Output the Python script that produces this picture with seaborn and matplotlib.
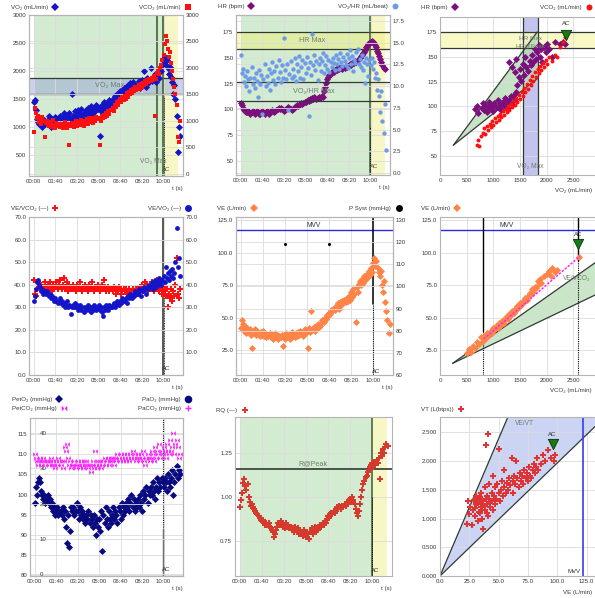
import matplotlib
matplotlib.use("Agg")
import numpy as np
import pandas as pd
import matplotlib.pyplot as plt
import seaborn as sns
from matplotlib.lines import Line2D
from matplotlib.legend import Legend
from matplotlib.path import Path
from matplotlib.ticker import FuncFormatter

sns.set_theme(style="whitegrid")
plt.rcParams['font.family'] = ['Liberation Sans', 'DejaVu Sans']
plt.rcParams['axes.axisbelow'] = True

# ---------------- data ----------------
T_S = [0, 5, 10, 15, 20, 25, 30, 35, 40, 45, 50, 55,
       60, 65, 70, 75, 80, 85, 90, 95, 100, 105, 110, 115,
       120, 125, 130, 135, 140, 145, 150, 155, 160, 165, 170, 175,
       180, 185, 190, 195, 200, 205, 210, 215, 220, 225, 230, 235,
       240, 245, 250, 255, 260, 265, 270, 275, 280, 285, 290, 295,
       300, 305, 310, 315, 320, 325, 330, 335, 340, 345, 350, 355,
       360, 365, 370, 375, 380, 385, 390, 395, 400, 405, 410, 415,
       420, 425, 430, 435, 440, 445, 450, 455, 460, 465, 470, 475,
       480, 485, 490, 495, 500, 505, 510, 515, 520, 525, 530, 535,
       540, 545, 550, 555, 560, 565, 570, 575, 580, 585, 590, 595,
       600, 605, 610, 615, 620, 625, 630, 635, 640, 645, 650, 655,
       660, 665, 670, 675]

VO2 = [1450, 1480, 1300, 1150, 1100, 1050, 1120, 1080, 1000, 1150, 1060, 1100,
       1050, 1120, 1200, 1080, 1000, 1150, 1100, 1050, 1180, 1120, 1090, 1160,
       1200, 1130, 1080, 1170, 1250, 1150, 1100, 1220, 1180, 1260, 1140, 1600,
       1200, 1150, 1280, 1220, 1180, 1300, 1250, 1200, 1320, 1170, 1260, 1230,
       1300, 1250, 1350, 1280, 1220, 1380, 1300, 1260, 1340, 1290, 1400, 1320,
       1350, 850, 1280, 1400, 1330, 1450, 1370, 1300, 1420, 1360, 1480, 1400,
       1450, 1500, 1420, 1550, 1480, 1600, 1520, 1580, 1650, 1560, 1620, 1700,
       1650, 1720, 1600, 1750, 1680, 1780, 1700, 1650, 1800, 1720, 1760, 1690,
       1750, 1820, 1700, 1780, 1850, 1760, 2000, 1800, 1720, 1880, 1790, 1850,
       2050, 1820, 1900, 1870, 1950, 1800, 1920, 1980, 1880, 2050, 2000, 2100,
       2150, 2250, 2100, 2200, 2050, 1950, 2080, 1900, 1800, 1600, 1750, 1500,
       1200, 550, 1000, 850]

VCO2 = [800, 1250, 1150, 1050, 1100, 980, 1020, 950, 1080, 1000, 700, 960,
        1000, 920, 980, 900, 950, 880, 1010, 930, 870, 960, 900, 940,
        880, 950, 920, 860, 900, 980, 910, 870, 940, 540, 900, 960,
        920, 880, 950, 1000, 900, 940, 980, 920, 1010, 960, 900, 1000,
        980, 1040, 950, 1000, 1060, 990, 1020, 960, 1050, 1000, 1080, 1030,
        1050, 550, 1000, 1100, 1060, 1120, 1080, 1150, 1100, 1180, 1130, 1200,
        1200, 1250, 1180, 1300, 1260, 1350, 1300, 1380, 1420, 1350, 1450, 1400,
        1480, 1420, 1520, 1460, 1550, 1500, 1580, 1530, 1600, 1560, 1640, 1580,
        1620, 1680, 1600, 1700, 1650, 1720, 1680, 1750, 1700, 1780, 1730, 1800,
        1750, 1820, 1780, 1850, 1100, 1800, 1900, 1950, 1880, 2000, 2050, 2150,
        2250, 2450, 2600, 2500, 2350, 2200, 2300, 2100, 1950, 1800, 1650, 1500,
        1300, 700, 600, 1000]

HR = [106, 104, 101, 99, 98, 97, 97, 98, 97, 96, 97, 98,
      97, 96, 97, 98, 97, 96, 96, 97, 98, 97, 96, 97,
      98, 97, 96, 97, 98, 99, 98, 97, 98, 99, 100, 101,
      100, 101, 100, 99, 98, 99, 100, 101, 102, 101, 100, 99,
      100, 101, 102, 103, 104, 103, 104, 105, 106, 105, 106, 107,
      107, 108, 109, 108, 110, 109, 111, 110, 112, 111, 110, 111,
      112, 111, 112, 113, 112, 118, 122, 126, 129, 131, 133, 134,
      136, 137, 136, 138, 139, 138, 140, 139, 141, 140, 139, 141,
      140, 142, 141, 142, 143, 144, 143, 145, 146, 145, 147, 146,
      148, 149, 150, 152, 153, 155, 156, 158, 160, 161, 163, 164,
      165, 166, 165, 164, 162, 160, 157, 155, 152, 149, 146, 143,
      140, 139, None, None]

VO2_HR = [13.6, 11.5, 12.0, 10.5, 11.2, 10.0, 11.8, 10.8, 9.5, 11.0, 12.2, 10.3,
          11.0, 9.8, 11.5, 10.6, 8.8, 11.9, 10.2, 11.3, 6.8, 10.8, 12.5, 10.0,
          11.2, 10.4, 12.0, 9.6, 11.5, 12.8, 10.7, 11.8, 10.2, 12.3, 11.0, 13.0,
          11.6, 10.5, 12.4, 11.0, 15.6, 11.9, 10.8, 12.6, 7.2, 11.4, 12.9, 10.9,
          12.0, 11.2, 13.2, 10.6, 12.5, 11.8, 13.5, 11.0, 12.2, 13.0, 10.8, 12.7,
          11.5, 13.4, 12.1, 6.6, 12.8, 11.3, 16.0, 12.4, 13.6, 11.9, 12.9, 10.7,
          12.6, 13.2, 11.8, 12.9, 13.8, 11.5, 12.4, 13.5, 12.0, 13.0, 11.6, 12.8,
          12.2, 13.3, 12.7, 11.9, 13.6, 12.5, 13.1, 12.0, 13.8, 12.8, 12.3, 13.4,
          12.9, 12.4, 13.7, 12.1, 13.2, 14.2, 12.6, 13.5, 11.8, 13.0, 12.7, 13.9,
          14.3, 12.5, 13.1, 12.2, 13.6, 11.9, 12.8, 10.4, 13.3, 12.6, 11.2, 13.0,
          12.4, 13.2, 12.0, 12.8, 10.9, 11.5, 9.6, 10.8, 8.9, 7.0, 9.4, 6.0,
          4.6, 8.0, 2.7, None]

VE_VCO2 = [42, 36, 35, 38, 41, 39, 38, 40, 37, 39, 41, 38,
           39, 40, 38, 41, 39, 37, 40, 38, 39, 41, 38, 40,
           42, 39, 38, 40, 43, 38, 39, 41, 37, 40, 39, 38,
           40, 38, 39, 37, 40, 38, 39, 41, 38, 37, 39, 40,
           38, 39, 37, 40, 38, 39, 41, 38, 37, 39, 38, 40,
           39, 37, 38, 40, 38, 42, 39, 37, 38, 39, 37, 38,
           38, 37, 39, 38, 36, 38, 37, 39, 38, 36, 37, 38,
           37, 38, 36, 37, 38, 36, 37, 35, 38, 37, 36, 38,
           36, 37, 39, 38, 40, 37, 39, 41, 38, 40, 37, 39,
           38, 41, 39, 37, 40, 38, 42, 39, 37, 40, 38, 36,
           39, 37, 35, 38, 30, 36, 34, 38, 33, 37, 35, 40,
           52, 36, 34, 38]

VE_VO2 = [33, 35, 38, 41, 42, 40, 39, 37, 38, 36, 37, 36,
          37, 36, 35, 36, 34, 35, 34, 33, 34, 33, 32, 33,
          34, 32, 33, 31, 32, 30, 31, 33, 30, 31, 27, 30,
          31, 30, 32, 30, 31, 29, 30, 31, 29, 30, 28, 30,
          29, 30, 31, 29, 30, 28, 30, 29, 31, 30, 29, 30,
          31, 29, 30, 28, 26, 30, 29, 31, 30, 29, 31, 30,
          30, 31, 32, 30, 31, 33, 32, 31, 33, 32, 34, 33,
          33, 34, 32, 35, 34, 36, 35, 34, 36, 35, 37, 36,
          36, 38, 37, 35, 38, 37, 39, 38, 36, 39, 38, 40,
          39, 41, 38, 40, 42, 39, 41, 40, 43, 41, 40, 42,
          44, 41, 48, 43, 45, 42, 46, 44, 47, 43, 45, 50,
          65, 48, 52, 44]

VE = [42, 48, 45, 40, 44, 38, 42, 39, 41, 37, 27, 40,
      39, 41, 37, 40, 38, 36, 39, 37, 40, 36, 38, 35,
      37, 36, 38, 35, 37, 34, 36, 38, 35, 37, 34, 36,
      35, 37, 28, 36, 34, 38, 35, 37, 36, 34, 39, 36,
      37, 35, 38, 36, 39, 37, 40, 38, 36, 39, 41, 38,
      40, 27, 42, 39, 55, 41, 43, 40, 44, 42, 45, 43,
      44, 46, 48, 47, 50, 49, 52, 51, 54, 53, 56, 55,
      57, 56, 59, 58, 61, 57, 62, 60, 63, 61, 64, 62,
      65, 63, 67, 64, 70, 66, 72, 68, 47, 74, 70, 76,
      78, 75, 80, 77, 82, 79, 84, 81, 86, 83, 88, 85,
      92, 96, 90, 94, 88, 85, 82, 86, 75, 70, 78, 62,
      55, 48, 38, 45]

PET_O2 = [98, 102, 100, 103, 104, 103, 101, 100, 99, 100, 98, 99,
          100, 98, 99, 97, 98, 96, 97, 95, 96, 97, 95, 96,
          96, 95, 97, 94, 96, 92, 88, 95, 87, 91, 97, 96,
          97, 95, 96, 98, 96, 94, 97, 95, 96, 94, 95, 93,
          95, 94, 96, 93, 95, 94, 92, 95, 93, 90, 94, 92,
          94, 91, 96, 86, 95, 93, 97, 94, 92, 96, 94, 93,
          95, 97, 94, 96, 95, 93, 97, 96, 94, 98, 95, 97,
          96, 98, 97, 99, 96, 98, 100, 97, 99, 96, 98, 97,
          99, 97, 100, 98, 96, 101, 99, 100, 102, 98, 101, 100,
          102, 100, 103, 101, 99, 102, 104, 101, 103, 102, 104, 103,
          102, 104, 103, 101, 105, 103, 102, 104, 106, 100, 103, 105,
          107, 104, 106, 105]

PET_CO2 = [34, 33, 32, 31, 32, 33, 31, 32, 33, 32, 31, 32,
           32, 31, 32, 33, 31, 32, 31, 30, 32, 31, 33, 32,
           31, 32, 30, 32, 36, 35, 37, 33, 31, 32, 30, 31,
           31, 32, 30, 31, 32, 31, 30, 32, 31, 30, 32, 31,
           32, 31, 30, 31, 29, 31, 32, 30, 35, 31, 30, 32,
           31, 32, 30, 31, 32, 33, 31, 32, 33, 31, 32, 33,
           32, 33, 31, 33, 32, 34, 33, 32, 34, 33, 32, 34,
           33, 32, 34, 33, 32, 34, 33, 35, 33, 34, 32, 33,
           34, 33, 32, 34, 33, 35, 32, 31, 33, 34, 33, 32,
           33, 35, 34, 32, 36, 33, 35, 34, 37, 33, 35, 34,
           36, 35, 33, 37, 35, 34, 38, 35, 36, 40, 34, 37,
           38, 36, 33, 34]

RQ = [0.94, 0.98, 1.02, 1.08, 1.10, 1.06, 1.04, 1.07, 1.00, 0.97, 0.95, 0.96,
      0.94, 0.93, 0.92, 0.91, 0.90, 0.89, 0.88, 0.87, 0.86, 0.87, 0.85, 0.84,
      0.85, 0.84, 0.85, 0.83, 0.82, 0.81, 0.80, 0.77, 0.79, 0.81, 0.83, 0.85,
      0.84, 0.86, 0.85, 0.83, 0.84, 0.82, 0.85, 0.83, 0.84, 0.82, 0.83, 0.81,
      0.82, 0.80, 0.83, 0.81, 0.80, 0.82, 0.79, 0.81, 0.80, 0.78, 0.81, 0.79,
      0.77, 0.80, 0.79, 0.76, 0.80, 0.82, 0.79, 0.81, 0.83, 0.80, 0.82, 0.81,
      0.82, 0.84, 0.83, 0.85, 0.84, 0.86, 0.85, 0.87, 0.89, 0.88, 0.90, 0.91,
      0.90, 0.92, 0.91, 0.93, 0.94, 0.93, 0.95, 0.94, 0.93, 0.95, 0.94, 0.96,
      0.95, 0.97, 0.96, 0.98, 0.99, 0.97, 1.00, 0.98, 0.96, 0.93, 0.91, 0.89,
      0.92, 0.96, 1.00, 1.04, 1.07, 1.09, 1.11, 1.12, 1.14, 1.15, 1.17, 1.18,
      1.19, 1.17, 1.20, 1.18, 1.21, 1.19, 1.22, 1.10, 1.25, 1.23, 1.27, 1.25,
      1.28, 1.30, 1.29, None]

# panel 3: HR against VO2 and VCO2
P3_VO2 = [650, 700, 720, 780, 800, 820, 850, 880, 900, 920,
          950, 980, 1000, 1020, 1050, 1080, 1100, 1120, 1150, 1180,
          1200, 1220, 1250, 1280, 1300, 1330, 1350, 1380, 1400, 1420,
          1300, 1350, 1400, 1430, 1450, 1480, 1500, 1520, 1550, 1580,
          1600, 1620, 1650, 1680, 1700,
          1720, 1750, 1780, 1800, 1820, 1850, 1880, 1900, 1920, 1950,
          1980, 2000, 2050, 2100, 2150, 2250, 2300, 2350]
P3_HR = [97, 100, 93, 98, 103, 96, 101, 94, 99, 104,
         97, 101, 95, 103, 99, 106, 98, 102, 96, 104,
         100, 108, 103, 98, 106, 110, 102, 112, 107, 115,
         145, 140, 135, 148, 122, 130, 138, 126, 143, 132,
         150, 140, 136, 146, 142,
         152, 145, 158, 148, 155, 162, 150, 158, 145, 160,
         155, 163, 158, 150, 165, 163, 165, 163]
R3_VCO2 = [700, 740, 720, 760, 800, 830, 850, 880, 900, 930,
           950, 980, 1000, 1030, 1050, 1080, 1100, 1130, 1150, 1180,
           1200, 1230, 1250, 1280, 1300, 1330, 1350, 1380, 1400, 1430,
           1450, 1480, 1500, 1530, 1550, 1580, 1600, 1630, 1650, 1680,
           1700, 1730, 1750, 1780, 1800, 1830, 1850, 1880, 1900, 1930,
           1950, 1980, 2000, 2050, 2100, 2150, 2200, 2250, 2300, 2350]
R3_HR = [61, 60, 66, 70, 73, 78, 72, 80, 76, 82,
         79, 85, 81, 88, 84, 90, 86, 92, 89, 95,
         91, 97, 94, 100, 96, 102, 99, 105, 101, 108,
         104, 112, 107, 115, 111, 119, 115, 123, 118, 127,
         122, 131, 126, 135, 130, 138, 134, 141, 137, 144,
         140, 147, 143, 150, 146, 152, 150, 160, 165, 170]

# panel 6: VE against VCO2
P6_VCO2 = [500, 550, 580, 620, 650, 700, 740, 770, 800, 820,
           850, 880, 900, 930, 950, 980, 1000, 1030, 1050, 1080,
           1100, 1130, 1150, 1180, 1200, 1230, 1250, 1280, 1300, 1330,
           1350, 1380, 1400, 1420, 1450, 1480, 1500, 1520, 1550, 1580,
           1600, 1630, 1650, 1680, 1700, 1730, 1750, 1780, 1800, 1830,
           1850, 1880, 1900, 1950, 2000, 2050, 2080, 2100, 2150, 2200,
           2600]
P6_VE = [23, 26, 24, 28, 27, 31, 30, 35, 32, 36,
         34, 38, 36, 39, 40, 38, 42, 41, 44, 42,
         46, 44, 47, 48, 46, 50, 51, 49, 53, 52,
         55, 54, 57, 56, 59, 58, 61, 60, 63, 62,
         65, 64, 67, 69, 68, 72, 70, 74, 73, 78,
         76, 80, 77, 82, 84, 86, 82, 88, 85, 87,
         97]

# panel 9: VT against VE
P9_VE = [23, 25, 24, 26, 27, 28, 30, 31, 32, 33,
         34, 35, 35, 36, 37, 37, 38, 38, 39, 40,
         40, 41, 41, 42, 42, 43, 44, 44, 45, 45,
         46, 47, 47, 48, 49, 50, 50, 51, 52, 53,
         54, 55, 55, 56, 57, 58, 59, 60, 61, 62,
         62, 63, 64, 65, 66, 67, 68, 69, 70, 71,
         72, 73, 74, 75, 76, 77, 78, 79, 80, 81,
         82, 83, 84, 86, 88, 90, 92, 95, 97, 98,
         30, 32, 33, 34, 36, 36, 38, 39, 40, 43, 29, 31]
P9_VT = [0.90, 1.08, 1.30, 1.20, 0.88, 1.15, 1.05, 1.25, 0.95, 1.35,
         1.10, 1.20, 1.45, 1.00, 1.30, 0.82, 1.15, 1.55, 2.28, 1.25,
         1.40, 2.48, 1.05, 1.35, 1.60, 1.20, 1.45, 1.30, 1.75, 1.15,
         1.40, 1.55, 1.25, 1.35, 1.60, 2.22, 1.45, 1.30, 1.50, 1.65,
         1.40, 1.55, 1.85, 1.45, 1.62, 1.50, 1.70, 1.58, 2.05, 1.65,
         1.45, 1.75, 1.60, 2.00, 1.70, 1.55, 1.80, 1.65, 1.75, 1.60,
         1.85, 1.70, 1.80, 1.65, 1.90, 1.75, 1.70, 1.85, 1.95, 1.80,
         1.90, 2.05, 1.85, 1.95, 2.10, 2.00, 2.20, 2.05, 2.00, 2.10,
         1.18, 1.28, 1.12, 1.38, 1.25, 1.15, 1.22, 1.35, 1.10, 1.28, 1.32, 1.40]

PSYST_T = [200, 400]
PSYST = [119, 119]

# thresholds / reference values
AC_T = 598
VT1_T = 570
END_T = 667
VO2MAX_BAND = [1600, 1870]
HRMAX_BAND = [158.6, 175]
VO2HR_BAND = [8.3, 10.5]
VO2MAX_X_BAND = [1550, 1840]
HR_TRI = [(251, 61), (1824, 175), (1824, 128)]
AC3 = (2371, 172)
MVV = 117.5
MVV_9 = 122
VE_TRI = [(238, 15), (3000, 95), (3000, 69.3)]
AC6 = (2594, 107)
VT1_VCO2 = 800
AC_VCO2 = 2594
VE_REG = ([821, 2619], [33.7, 97.2])
R_PEAK = 1.157
VEVT_HI = 20.9
VEVT_LO = 50.8
AC9 = (96, 2.30)

df = pd.DataFrame({'t': T_S, 'VO2': VO2, 'VCO2': VCO2, 'HR': HR, 'VO2_HR': VO2_HR,
                   'VE_VCO2': VE_VCO2, 'VE_VO2': VE_VO2, 'VE': VE,
                   'PetO2': PET_O2, 'PetCO2': PET_CO2, 'RQ': RQ}).astype(float)

# ---------------- figure ----------------
W, H = 595, 598
fig = plt.figure(figsize=(W / 100, H / 100), dpi=100)
fig.patch.set_facecolor('white')

FS = 4.4
TXT = '#3a3a3a'
GRID = '#dcdcdc'
SPINE = '#b4b4b4'
GREEN_BG = '#d3ebd0'
YELLOW_BG = '#f7f7c6'
LINE_DK = '#2f3a33'
OLIVE = '#4d6b3c'
LBL = '#6e7f6e'

BLUE = '#1414c8'
RED = '#ff1010'
PURPLE = '#7b0f7b'
LBLUE = '#6d9be8'
ORANGE = '#ff8448'
NAVY = '#0a0a80'
MAGENTA = '#ff20ff'
RQRED = '#d63a2c'
ACGREEN = '#177a17'

BOWTIE = Path([(-1, -1), (-1, 1), (1, -1), (1, 1), (-1, -1)],
              [Path.MOVETO, Path.LINETO, Path.LINETO, Path.LINETO, Path.CLOSEPOLY])

RIGHT_EDGE = 592  # last visible pixel column used for right-column labels


def add_ax(l, t, r, b):
    return fig.add_axes([l / W, 1 - b / H, (r - l) / W, (b - t) / H])


def style(ax, grid=True):
    ax.grid(grid, color=GRID, lw=0.6)
    for s in ax.spines.values():
        s.set_color(SPINE)
        s.set_linewidth(0.8)
    ax.tick_params(labelsize=FS, colors=TXT, length=0, pad=2)
    ax.set_ylabel('')
    ax.set_xlabel('')


def fmt(axis, f):
    axis.set_major_formatter(FuncFormatter(lambda v, p: f.format(v)))


def time_axis(ax):
    ax.set_xlim(-22, 690)
    ax.set_xticks([0, 100, 200, 300, 400, 500, 600])
    ax.xaxis.set_major_formatter(FuncFormatter(lambda v, p: f"{int(v) // 60:02d}:{int(v) % 60:02d}"))
    ax.set_xlabel('t (s)', fontsize=FS, color=TXT, loc='right', labelpad=1.5)


def edge_xlabel(ax, text):
    pos = ax.get_position()
    xr = (RIGHT_EDGE / W - pos.x0) / pos.width
    ax.set_xlabel(text, fontsize=FS, color=TXT, loc='right')
    ax.xaxis.set_label_coords(xr, -0.085)


def tag(ax, label, marker, color, side, dy, size=4.3, mew=0.0, xr=None):
    h = Line2D([], [], ls='none', marker=marker, color=color, markersize=size,
               markeredgewidth=mew, markeredgecolor=color)
    hpx = ax.get_position().height * H
    y = 1 + dy / hpx
    if side == 'left':
        loc, x = 'center left', -0.12
    else:
        loc, x = 'center right', 1.055 if xr is None else xr
    leg = Legend(ax, [h], [label], loc=loc, bbox_to_anchor=(x, y), bbox_transform=ax.transAxes,
                 markerfirst=False, frameon=False, fontsize=FS, handlelength=1.0,
                 handletextpad=0.7, borderpad=0, borderaxespad=0, labelcolor=TXT)
    ax.add_artist(leg)


def note(ax, x, y, s, size=5.2, color=LBL, **kw):
    ax.text(x, y, s, fontsize=size, color=color, ha=kw.pop('ha', 'center'), va=kw.pop('va', 'center'),
            zorder=6, **kw)


def time_bg(ax):
    ax.axvspan(0, AC_T, color=GREEN_BG, lw=0, zorder=0.1)
    ax.axvspan(AC_T, END_T, color=YELLOW_BG, lw=0, zorder=0.1)


DS = 13   # diamond size
# ---- panel 1: VO2 / VCO2 vs time ----
ax1 = add_ax(29, 15, 183, 176)
time_bg(ax1)
ax1.axhspan(*VO2MAX_BAND, color='#8c9ad6', alpha=0.45, lw=0, zorder=0.2)
for v in VO2MAX_BAND:
    ax1.axhline(v, color=LINE_DK, lw=0.9, zorder=2)
ax1.axvline(VT1_T, color=OLIVE, lw=1.3, zorder=2)
ax1.axvline(AC_T, color=OLIVE, lw=1.3, zorder=2)
ax1.axvline(AC_T + 3, ymax=0.5, color='black', ls=(0, (1, 1)), lw=0.7, zorder=2)
sns.scatterplot(data=df, x='t', y='VO2', ax=ax1, marker='D', s=DS, color=BLUE, linewidth=0,
                legend=False, zorder=3)
ax1.set_ylim(130, 3000)
ax1.set_yticks([500, 1000, 1500, 2000, 2500, 3000])
fmt(ax1.yaxis, '{:.0f}')
style(ax1)
time_axis(ax1)
note(ax1, 350, 1735, 'VO₂ Max')
note(ax1, 555, 380, 'VO₂ Max', size=4.8)
note(ax1, 612, 240, 'AC', size=4.3, color='#505040')
ax1b = ax1.twinx()
sns.scatterplot(data=df, x='t', y='VCO2', ax=ax1b, marker='s', s=9, color=RED, linewidth=0,
                legend=False, zorder=3)
ax1b.set_ylim(-38, 3000)
ax1b.set_yticks([0, 500, 1000, 1500, 2000, 2500, 3000])
fmt(ax1b.yaxis, '{:.0f}')
style(ax1b, grid=False)
tag(ax1, 'VO₂ (mL/min)', 'D', BLUE, 'left', 8)
tag(ax1, 'VCO₂ (mL/min)', 's', RED, 'right', 8)

# ---- panel 2: HR / VO2/HR vs time ----
ax2 = add_ax(236, 15, 390, 175)
time_bg(ax2)
ax2.axhspan(*HRMAX_BAND, color='#f0f070', alpha=0.45, lw=0, zorder=0.2)
for v in HRMAX_BAND:
    ax2.axhline(v, color=LINE_DK, lw=0.9, zorder=2)
ax2.axvline(AC_T, color=OLIVE, lw=1.2, zorder=2)
ax2.axvline(AC_T, ymax=0.3, color='black', ls=(0, (1, 1)), lw=0.7, zorder=2)
sns.scatterplot(data=df, x='t', y='HR', ax=ax2, marker='D', s=DS, color=PURPLE, linewidth=0,
                legend=False, zorder=3)
ax2.set_ylim(36.4, 191.5)
ax2.set_yticks([50, 75, 100, 125, 150, 175])
fmt(ax2.yaxis, '{:.0f}')
style(ax2)
time_axis(ax2)
note(ax2, 330, 166.5, 'HR Max')
note(ax2, 615, 45, 'AC', size=4.3, color='#505040')
ax2b = ax2.twinx()
for v in VO2HR_BAND:
    ax2b.axhline(v, color=LINE_DK, lw=0.9, zorder=2)
sns.scatterplot(data=df, x='t', y='VO2_HR', ax=ax2b, marker='o', s=10, color=LBLUE, linewidth=0,
                legend=False, zorder=3)
ax2b.set_ylim(-0.23, 18.2)
ax2b.set_yticks([0, 2.5, 5, 7.5, 10, 12.5, 15, 17.5])
fmt(ax2b.yaxis, '{:.1f}')
style(ax2b, grid=False)
note(ax2b, 340, 9.4, 'VO₂/HR Max')
tag(ax2, 'HR (bpm)', 'D', PURPLE, 'left', 8.3)
tag(ax2, 'VO₂/HR (mL/beat)', 'o', LBLUE, 'right', 8.3)

# ---- panel 3: HR vs VO2 / VCO2 ----
ax3 = add_ax(440, 17, 600, 175)
ax3.axvspan(*VO2MAX_X_BAND, color='#b9b9ec', alpha=0.85, lw=0, zorder=0.2)
for v in VO2MAX_X_BAND:
    ax3.axvline(v, color=LINE_DK, lw=0.9, zorder=2)
ax3.axhspan(*HRMAX_BAND, color='#f8f8bc', alpha=0.85, lw=0, zorder=0.2)
for v in HRMAX_BAND:
    ax3.axhline(v, color=LINE_DK, lw=0.9, zorder=2)
ax3.fill([p[0] for p in HR_TRI], [p[1] for p in HR_TRI], color='#b8dcb8', alpha=0.8, lw=0, zorder=0.3)
for p in HR_TRI[1:]:
    ax3.plot([HR_TRI[0][0], p[0]], [HR_TRI[0][1], p[1]], color=LINE_DK, lw=0.9, zorder=2)
sns.scatterplot(x=P3_VO2, y=P3_HR, ax=ax3, marker='D', s=DS, color=PURPLE, linewidth=0,
                legend=False, zorder=3)
sns.scatterplot(x=R3_VCO2, y=R3_HR, ax=ax3, marker='o', s=8, color=RED, linewidth=0,
                legend=False, zorder=3)
sns.scatterplot(x=[AC3[0]], y=[AC3[1]], ax=ax3, marker='v', s=55, color=ACGREEN,
                edgecolor='#0a300a', linewidth=0.6, legend=False, zorder=4)
ax3.set_xlim(0, 3000)
ax3.set_ylim(31, 190)
ax3.set_xticks([0, 500, 1000, 1500, 2000, 2500])
ax3.set_yticks([50, 75, 100, 125, 150, 175])
fmt(ax3.xaxis, '{:.0f}')
fmt(ax3.yaxis, '{:.0f}')
style(ax3)
edge_xlabel(ax3, 'VO₂ (mL/min)')
note(ax3, AC3[0], AC3[1] + 11, 'AC', size=4.3, color='#303030')
note(ax3, 1690, 168, 'HR Max', size=4.6)
note(ax3, 1690, 160.5, 'HR@Peak', size=4.6)
note(ax3, 1700, 40, 'VO₂ Max', size=4.8)
tag(ax3, 'HR (bpm)', 'D', PURPLE, 'left', 10)
pos3 = ax3.get_position()
tag(ax3, 'VCO₂ (mL/min)', 'o', RED, 'right', 10, xr=(RIGHT_EDGE / W - pos3.x0) / pos3.width)

# ---- panel 4: VE/VCO2, VE/VO2 vs time ----
ax4 = add_ax(29, 217, 183, 375)
ax4.axvline(AC_T, color='#4a4a4a', lw=1.3, zorder=2)
ax4.axvline(AC_T + 3, ymax=0.6, color='black', ls=(0, (1, 1)), lw=0.6, zorder=2)
sns.scatterplot(data=df, x='t', y='VE_VCO2', ax=ax4, marker='P', s=17, color=RED, linewidth=0,
                legend=False, zorder=3)
ax4.set_ylim(0, 70)
ax4.set_yticks([0, 10, 20, 30, 40, 50, 60, 70])
fmt(ax4.yaxis, '{:.1f}')
style(ax4)
time_axis(ax4)
note(ax4, 612, 3, 'AC', size=4.3, color='#303030')
ax4b = ax4.twinx()
sns.scatterplot(data=df, x='t', y='VE_VO2', ax=ax4b, marker='o', s=12, color=BLUE, linewidth=0,
                legend=False, zorder=3)
ax4b.set_ylim(0, 70)
ax4b.set_yticks([10, 20, 30, 40, 50, 60, 70])
fmt(ax4b.yaxis, '{:.1f}')
style(ax4b, grid=False)
tag(ax4, 'VE/VCO₂ (—)', 'P', RED, 'left', 8.7)
tag(ax4, 'VE/VO₂ (—)', 'o', BLUE, 'right', 8.7, size=5)

# ---- panel 5: VE / P syst vs time ----
ax5 = add_ax(236, 217, 393, 375)
ax5.axhline(MVV, color='#2a2ae6', lw=1.0, zorder=2)
ax5.axvline(AC_T, ymin=0.45, color='black', lw=1.1, zorder=2)
ax5.axvline(AC_T, ymax=0.45, color='black', ls=(0, (1, 1)), lw=0.8, zorder=2)
sns.scatterplot(data=df, x='t', y='VE', ax=ax5, marker='D', s=DS, color=ORANGE, linewidth=0,
                legend=False, zorder=3)
ax5.set_ylim(6, 127.5)
ax5.set_yticks([25, 50, 75, 100, 125])
fmt(ax5.yaxis, '{:.1f}')
style(ax5)
time_axis(ax5)
note(ax5, 330, 121, 'MVV', size=4.8, color='#303030')
note(ax5, 615, 9, 'AC', size=4.3, color='#303030')
ax5b = ax5.twinx()
sns.scatterplot(x=PSYST_T, y=PSYST, ax=ax5b, marker='o', s=5, color='black', linewidth=0,
                legend=False, zorder=3)
ax5b.set_ylim(60, 131.3)
ax5b.set_yticks([60, 70, 80, 90, 100, 110, 120, 130])
fmt(ax5b.yaxis, '{:.0f}')
style(ax5b, grid=False)
tag(ax5, 'VE (L/min)', 'D', ORANGE, 'left', 8.7)
tag(ax5, 'P Syst (mmHg)', 'o', 'black', 'right', 8.7, size=5)

# ---- panel 6: VE vs VCO2 ----
ax6 = add_ax(440, 217, 600, 375)
ax6.fill([p[0] for p in VE_TRI], [p[1] for p in VE_TRI], color='#c4e4c4', alpha=0.9, lw=0, zorder=0.3)
for p in VE_TRI[1:]:
    ax6.plot([VE_TRI[0][0], p[0]], [VE_TRI[0][1], p[1]], color=LINE_DK, lw=0.9, zorder=2)
ax6.axhline(MVV, color='#2a2ae6', lw=1.0, zorder=2)
ax6.axvline(VT1_VCO2, ymin=0.28, color='black', lw=1.0, zorder=2)
ax6.axvline(VT1_VCO2, ymax=0.28, color='black', ls=(0, (1, 1)), lw=0.8, zorder=2)
ax6.axvline(AC_VCO2, ymin=0.72, color='black', lw=1.0, zorder=2)
ax6.axvline(AC_VCO2, ymax=0.72, color='black', ls=(0, (1, 1)), lw=0.8, zorder=2)
sns.scatterplot(x=P6_VCO2, y=P6_VE, ax=ax6, marker='D', s=DS, color=ORANGE, linewidth=0,
                legend=False, zorder=3)
ax6.plot(VE_REG[0], VE_REG[1], color=MAGENTA, ls=(0, (1.5, 1)), lw=1.1, zorder=4)
sns.scatterplot(x=[AC6[0]], y=[AC6[1]], ax=ax6, marker='v', s=55, color=ACGREEN,
                edgecolor='#0a300a', linewidth=0.6, legend=False, zorder=5)
ax6.set_xlim(0, 3000)
ax6.set_ylim(6, 127.5)
ax6.set_xticks([0, 500, 1000, 1500, 2000, 2500])
ax6.set_yticks([25, 50, 75, 100, 125])
fmt(ax6.xaxis, '{:.0f}')
fmt(ax6.yaxis, '{:.1f}')
style(ax6)
edge_xlabel(ax6, 'VCO₂ (mL/min)')
note(ax6, 1250, 121, 'MVV', size=4.8, color='#303030')
note(ax6, AC6[0], AC6[1] + 7, 'AC', size=4.3, color='#303030')
note(ax6, 2830, 80, 'VE/VCO₂', size=4.8, ha='right')
tag(ax6, 'VE (L/min)', 'D', ORANGE, 'left', 8.7)

# ---- panel 7: PetO2 / PetCO2 vs time ----
ax7 = add_ax(30, 418, 183, 576)
ax7.axvline(AC_T, color='black', ls=(0, (1, 1)), lw=0.8, zorder=2)
ax7.axvline(AC_T, ymax=0.3, color='#707070', lw=1.0, zorder=2)
sns.scatterplot(data=df, x='t', y='PetO2', ax=ax7, marker='D', s=DS, color=NAVY, linewidth=0,
                legend=False, zorder=3)
ax7.set_ylim(79.8, 119)
ax7.set_yticks([80, 85, 90, 95, 100, 105, 110, 115])
fmt(ax7.yaxis, '{:.0f}')
style(ax7)
time_axis(ax7)
note(ax7, 612, 81.5, 'AC', size=4.3, color='#303030')
ax7b = ax7.twinx()
sns.scatterplot(data=df, x='t', y='PetCO2', ax=ax7b, marker=BOWTIE, s=11, color=MAGENTA,
                linewidth=0, legend=False, zorder=3)
ax7b.set_ylim(-0.6, 44.3)
ax7b.set_yticks([0, 10, 20, 30, 40])
fmt(ax7b.yaxis, '{:.0f}')
style(ax7b, grid=False)
ax7b.yaxis.tick_left()
ax7b.tick_params(axis='y', labelleft=True, labelright=False, pad=-7)
for lab in ax7b.get_yticklabels():
    lab.set_horizontalalignment('left')
tag(ax7, 'PetO₂ (mmHg)', 'D', NAVY, 'left', 18.7)
tag(ax7, 'PetCO₂ (mmHg)', BOWTIE, MAGENTA, 'left', 10, size=4.0)
tag(ax7, 'PaO₂ (mmHg)', 'o', NAVY, 'right', 18.7, size=5.5)
tag(ax7, 'PaCO₂ (mmHg)', '+', MAGENTA, 'right', 10, size=4.5, mew=1.0)

# ---- panel 8: RQ vs time ----
ax8 = add_ax(235, 417, 392, 576)
time_bg(ax8)
ax8.axhline(R_PEAK, color=LINE_DK, lw=1.2, zorder=2)
ax8.axvline(AC_T, color=OLIVE, lw=1.2, zorder=2)
ax8.axvline(AC_T, ymax=0.5, color='black', ls=(0, (1, 1)), lw=0.7, zorder=2)
sns.scatterplot(data=df, x='t', y='RQ', ax=ax8, marker='P', s=19, color=RQRED, linewidth=0,
                legend=False, zorder=3)
ax8.set_ylim(0.55, 1.453)
ax8.set_yticks([0.75, 1.0, 1.25])
fmt(ax8.yaxis, '{:.2f}')
style(ax8)
time_axis(ax8)
note(ax8, 330, 1.19, 'R@Peak')
note(ax8, 615, 0.58, 'AC', size=4.3, color='#303030')
tag(ax8, 'RQ (—)', 'P', RQRED, 'left', 7)

# ---- panel 9: VT vs VE ----
ax9 = add_ax(440, 417, 600, 576)
X9, Y9 = 136.5, 2.77
tri_x = [0, Y9 * VEVT_HI, X9, X9]
tri_y = [0, Y9, Y9, X9 / VEVT_LO]
ax9.fill(tri_x, tri_y, color='#c7d0f2', alpha=0.9, lw=0, zorder=0.3)
ax9.plot([0, Y9 * VEVT_HI], [0, Y9], color=LINE_DK, lw=0.9, zorder=2)
ax9.plot([0, X9], [0, X9 / VEVT_LO], color=LINE_DK, lw=0.9, zorder=2)
ax9.axvline(MVV_9, color='#3a3af0', lw=1.2, zorder=2)
sns.scatterplot(x=P9_VE, y=P9_VT, ax=ax9, marker='P', s=19, color='#e03434', linewidth=0,
                legend=False, zorder=3)
sns.scatterplot(x=[AC9[0]], y=[AC9[1]], ax=ax9, marker='v', s=55, color=ACGREEN,
                edgecolor='#0a300a', linewidth=0.6, legend=False, zorder=5)
ax9.set_xlim(0, X9)
ax9.set_ylim(0, Y9)
ax9.set_xticks([0, 25, 50, 75, 100, 125])
ax9.set_yticks([0, 0.5, 1.0, 1.5, 2.0, 2.5])
fmt(ax9.xaxis, '{:.1f}')
fmt(ax9.yaxis, '{:.3f}')
style(ax9)
edge_xlabel(ax9, 'VE (L/min)')
note(ax9, 72, 2.66, 'VE/VT', size=4.8)
note(ax9, MVV_9 - 2, 0.07, 'MVV', size=4.3, color='#303030', ha='right')
note(ax9, AC9[0], AC9[1] + 0.17, 'AC', size=4.3, color='#303030')
tag(ax9, 'VT (L(btps))', 'P', '#e03434', 'left', 8)

fig.savefig('out.png', dpi=100, facecolor='white')
